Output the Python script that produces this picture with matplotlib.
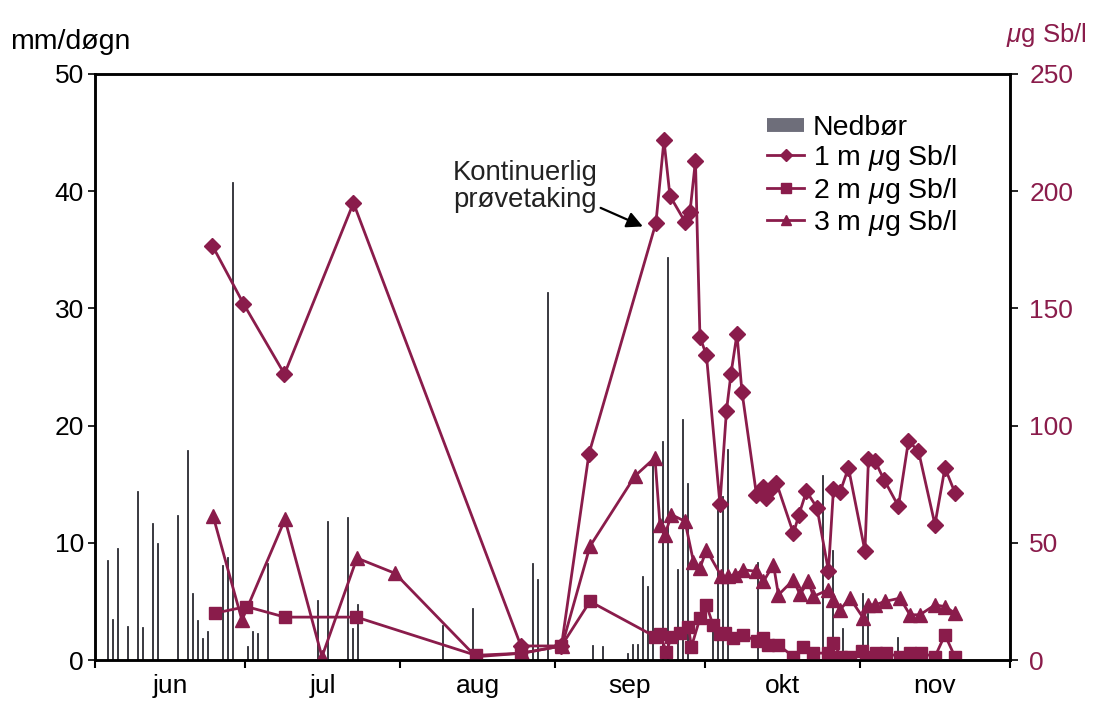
import matplotlib
matplotlib.use("Agg")
import matplotlib.pyplot as plt
from matplotlib.lines import Line2D

plt.rcParams["font.family"] = ["Liberation Sans", "DejaVu Sans"]
plt.rcParams["mathtext.fontset"] = "custom"
plt.rcParams["mathtext.rm"] = "Liberation Sans"
plt.rcParams["mathtext.it"] = "Liberation Sans:italic"

MAROON = "#8a1c4b"
RAIN = "#2c2c34"
FS = 19

# dag 0 = 1. juni
month_starts = [0, 30, 61, 92, 122, 153, 183]
month_labels = ["jun", "jul", "aug", "sep", "okt", "nov"]

# nedbør, mm/døgn
rain_day = [2, 3, 4, 6, 8, 9, 11, 12, 16, 18, 19, 20, 21, 22, 25, 26, 27, 30, 31, 32,
            34, 44, 46, 50, 51, 52, 69, 75, 87, 88, 90, 99, 101, 106, 107, 108, 109,
            110, 111, 113, 114, 116, 117, 118, 123, 124, 125, 126, 132, 145, 147, 149,
            153, 154, 160]
rain_mm = [8.5, 3.5, 9.6, 2.9, 14.4, 2.8, 11.7, 10.0, 12.4, 17.9, 5.7, 3.4, 1.9, 2.5,
           8.1, 8.8, 40.8, 1.2, 2.5, 2.3, 8.3, 5.1, 11.9, 12.2, 2.7, 4.8, 3.0, 4.4, 8.3,
           6.9, 31.4, 1.3, 1.2, 0.6, 1.4, 1.4, 7.2, 6.3, 17.0, 18.7, 34.4, 7.8, 20.6,
           15.1, 3.1, 13.5, 14.0, 18.0, 8.4, 15.8, 9.4, 2.7, 5.7, 4.0, 2.0]

# 1 m dyp, µg Sb/l
d1_day = [23.5, 29.7, 37.9, 51.7, 85.2, 93.3, 98.8, 112.2, 113.8, 115.0, 118.0, 119.0,
          120.1, 121.0, 122.3, 125.0, 126.3, 127.2, 128.4, 129.4, 132.3, 133.6, 134.3,
          135.3, 136.3, 139.7, 140.8, 142.3, 144.4, 146.7, 147.7, 149.0, 150.7, 154.0,
          154.7, 156.0, 157.8, 160.7, 162.7, 164.7, 168.0, 170.0, 172.0]
d1_sb = [176.7, 152.0, 122.0, 195.0, 6.0, 6.0, 88.0, 186.5, 221.7, 198.0, 187.0, 191.0,
         213.0, 137.8, 130.0, 66.5, 106.3, 122.0, 139.0, 114.5, 70.6, 74.0, 69.0, 73.0,
         75.6, 54.0, 62.0, 72.0, 65.0, 38.0, 72.8, 71.5, 82.0, 46.5, 85.6, 85.0, 77.0,
         65.6, 93.4, 89.2, 57.8, 82.0, 71.4]

# 2 m dyp
d2_day = [24.0, 30.3, 38.0, 52.3, 76.2, 85.3, 93.3, 99.0, 112.0, 113.0, 114.3, 115.3,
          117.0, 118.7, 119.3, 121.0, 122.3, 123.6, 125.0, 126.0, 127.7, 129.7, 132.4,
          133.7, 134.7, 136.7, 139.7, 141.7, 143.7, 146.6, 147.7, 149.3, 151.0, 153.4,
          154.2, 156.3, 158.3, 161.0, 163.0, 165.3, 168.0, 170.0, 172.0]
d2_sb = [20.0, 22.8, 18.3, 18.3, 2.0, 2.9, 6.0, 25.0, 10.0, 11.0, 3.5, 10.0, 11.5, 14.0,
         5.7, 17.8, 23.5, 15.0, 11.0, 11.4, 9.3, 10.7, 8.0, 9.3, 6.4, 6.4, 1.4, 5.7, 2.9,
         3.0, 7.1, 1.4, 1.4, 4.0, 1.4, 2.9, 2.9, 1.4, 2.9, 2.9, 1.4, 10.7, 1.4]

# 3 m dyp
d3_day = [23.6, 29.4, 38.0, 45.4, 52.4, 60.0, 76.2, 85.4, 93.4, 99.0, 108.0, 112.0,
          113.0, 114.0, 115.3, 118.0, 119.7, 121.0, 122.3, 125.3, 126.7, 128.0, 129.7,
          132.3, 133.7, 135.7, 136.7, 139.7, 141.0, 142.7, 143.7, 146.7, 147.7, 149.0,
          151.0, 153.7, 154.7, 156.0, 158.0, 161.0, 163.0, 165.0, 168.0, 170.0, 172.0]
d3_sb = [61.6, 17.0, 60.0, 1.4, 43.5, 37.0, 1.4, 2.9, 6.0, 48.5, 78.5, 86.3, 57.8, 53.5,
         62.0, 59.2, 42.0, 39.2, 47.0, 35.7, 35.7, 36.4, 38.5, 37.8, 33.5, 40.7, 27.8,
         34.2, 28.0, 33.5, 27.1, 30.0, 25.7, 21.4, 26.4, 17.8, 23.5, 23.5, 25.0, 26.4,
         19.3, 19.3, 23.5, 22.8, 20.0]

fig = plt.figure(figsize=(10.93, 7.02), dpi=100)
ax = fig.add_axes([0.0869, 0.0598, 0.8371, 0.8348])
ax2 = ax.twinx()

# smale søyler, kant i samme farge så de ikke forsvinner
ax.bar([d + 0.5 for d in rain_day], rain_mm, width=0.3, color=RAIN,
       edgecolor=RAIN, linewidth=0.6, zorder=2)

line_kw = dict(color=MAROON, lw=2.0, markerfacecolor=MAROON, markeredgecolor=MAROON)
ax2.plot(d1_day, d1_sb, marker="D", ms=8.5, **line_kw)
ax2.plot(d2_day, d2_sb, marker="s", ms=8.5, **line_kw)
ax2.plot(d3_day, d3_sb, marker="^", ms=10, **line_kw)

ax.set_xlim(0, 183)
ax.set_ylim(0, 50)
ax2.set_ylim(0, 250)
ax.set_yticks(range(0, 51, 10))
ax2.set_yticks(range(0, 251, 50))

ax.set_xticks(month_starts)
ax.set_xticklabels([])
ax.set_xticks([(a + b) / 2 for a, b in zip(month_starts[:-1], month_starts[1:])],
              minor=True)
ax.set_xticklabels(month_labels, minor=True, fontsize=FS)
ax.tick_params(axis="x", which="major", length=6, width=1.5, direction="out")
ax.tick_params(axis="x", which="minor", length=0, pad=10)
ax.tick_params(axis="y", length=5, width=1.2, pad=3, labelsize=FS)
ax2.tick_params(axis="y", length=6, width=1.2, pad=8, labelsize=FS,
                labelcolor=MAROON)

for a in (ax, ax2):
    for s in a.spines.values():
        s.set_linewidth(1.8)

fig.text(0.064, 0.940, "mm/døgn", fontsize=FS + 1.5, ha="center", va="center")
fig.text(0.957, 0.950, r"$\mu$g Sb/l", fontsize=FS - 0.5, ha="center", va="center",
         color=MAROON)

ax2.annotate("Kontinuerlig\nprøvetaking", xy=(110.6, 184), xytext=(71.6, 202),
             fontsize=FS + 0.8, ha="left", va="center", color="#222222",
             linespacing=1.05,
             arrowprops=dict(arrowstyle="-|>", color="black", lw=1.6,
                             mutation_scale=24, relpos=(1.0, 0.12),
                             shrinkA=0, shrinkB=4))

handles = [
    Line2D([], [], color="#6e6e7a", lw=10, solid_capstyle="butt"),
    Line2D([], [], marker="D", ms=6.5, **line_kw),
    Line2D([], [], marker="s", ms=6.5, **line_kw),
    Line2D([], [], marker="^", ms=7.5, **line_kw),
]
labels = ["Nedbør", r"1 m $\mu$g Sb/l", r"2 m $\mu$g Sb/l", r"3 m $\mu$g Sb/l"]
ax2.legend(handles, labels, loc="upper left", bbox_to_anchor=(0.735, 0.93),
           frameon=False, fontsize=FS + 1.5, handlelength=1.3, handletextpad=0.3,
           labelspacing=0.08, borderpad=0, borderaxespad=0)

fig.savefig("out.png", dpi=100)
